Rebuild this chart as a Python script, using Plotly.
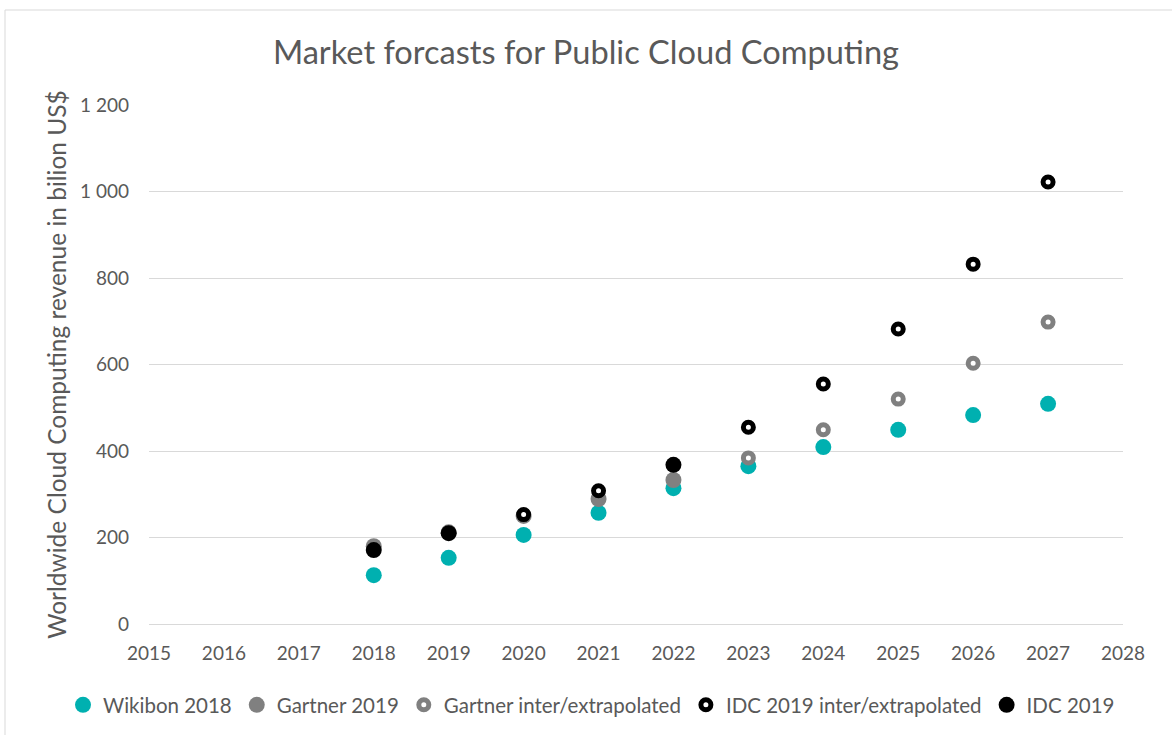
import plotly.graph_objects as go

# values (billion US$)
years = [2018, 2019, 2020, 2021, 2022, 2023, 2024, 2025, 2026, 2027]
wikibon_2018 = [113, 153, 206, 257, 314, 365, 409, 449, 483, 509]

gartner_years = [2018, 2019, 2020, 2021, 2022]
gartner_2019 = [180, 212, 250, 289, 333]

gartner_ext_years = [2023, 2024, 2025, 2026, 2027]
gartner_ext = [384, 449, 520, 603, 698]

idc_ext_years = [2020, 2021, 2023, 2024, 2025, 2026, 2027]
idc_ext = [253, 308, 455, 555, 682, 832, 1022]

idc_years = [2018, 2019, 2022]
idc_2019 = [171, 210, 368]

TEAL = "#00b0b0"
GREY = "#808080"
TXT = "#595959"
FONT = "Lato"

fig = go.Figure()
fig.add_trace(go.Scatter(x=years, y=wikibon_2018, mode="markers", name="Wikibon 2018",
                         marker=dict(size=16, color=TEAL)))
fig.add_trace(go.Scatter(x=gartner_years, y=gartner_2019, mode="markers", name="Gartner 2019",
                         marker=dict(size=16, color=GREY)))
fig.add_trace(go.Scatter(x=gartner_ext_years, y=gartner_ext, mode="markers",
                         name="Gartner inter/extrapolated",
                         marker=dict(size=10, color="white", line=dict(color=GREY, width=5))))
fig.add_trace(go.Scatter(x=idc_ext_years, y=idc_ext, mode="markers",
                         name="IDC 2019 inter/extrapolated",
                         marker=dict(size=10, color="white", line=dict(color="black", width=5))))
fig.add_trace(go.Scatter(x=idc_years, y=idc_2019, mode="markers", name="IDC 2019",
                         marker=dict(size=16, color="black")))

fig.update_layout(
    width=1172, height=735,
    paper_bgcolor="white", plot_bgcolor="white",
    margin=dict(l=149, r=49, t=105, b=111, autoexpand=False),
    font=dict(family=FONT, color=TXT, size=17),
    separators=". ",
    title=dict(text="Market forcasts for Public Cloud Computing", x=0.5, xanchor="center",
               y=0.929, yanchor="middle", font=dict(size=32.6, color=TXT)),
    showlegend=True,
    # anchored left of the plot area so plotly lets it use the full width
    legend=dict(orientation="h", x=-86/974, xanchor="left",
                y=-0.156, yanchor="middle",
                font=dict(size=20.5, color=TXT), itemsizing="trace", itemwidth=30,
                tracegroupgap=0),
    shapes=[dict(type="rect", xref="paper", yref="paper", x0=-144/974, x1=1030/974,
                 y0=-120/519, y1=614/519, line=dict(color="#d9d9d9", width=1))],
)
fig.update_xaxes(range=[2015, 2028], dtick=1, showgrid=False, zeroline=False,
                 showline=True, linecolor="#d9d9d9", linewidth=1, ticks="",
                 tickfont=dict(size=19, color=TXT), ticklabelstandoff=12, automargin=False)
fig.update_yaxes(range=[0, 1200], dtick=200, tickformat=",d", showgrid=True,
                 gridcolor="#d9d9d9", gridwidth=1, zeroline=False, showline=False,
                 ticks="", tickfont=dict(size=19, color=TXT), ticklabelstandoff=19,
                 automargin=False,
                 title=dict(text="Worldwide Cloud Computing revenue in bilion US$",
                            font=dict(size=24.5, color=TXT), standoff=6))

fig.write_html("out.html", config={"displayModeBar": False},
               post_script="document.body.style.margin='0';")
